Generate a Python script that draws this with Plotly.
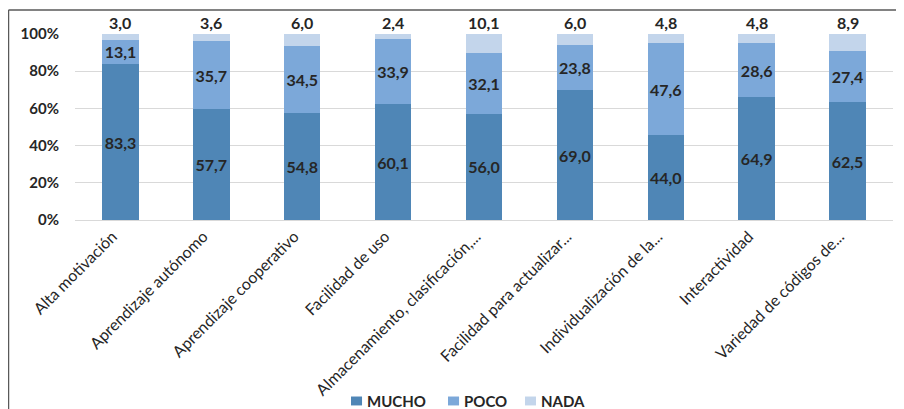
import plotly.graph_objects as go

categories = ["Alta motivación", "Aprendizaje autónomo", "Aprendizaje cooperativo",
              "Facilidad de uso", "Almacenamiento, clasificación,...",
              "Facilidad para actualizar...", "Individualización de la...",
              "Interactividad", "Variedad de códigos de..."]
mucho = [83.3, 57.7, 54.8, 60.1, 56.0, 69.0, 44.0, 64.9, 62.5]
poco = [13.1, 35.7, 34.5, 33.9, 32.1, 23.8, 47.6, 28.6, 27.4]
nada = [3.0, 3.6, 6.0, 2.4, 10.1, 6.0, 4.8, 4.8, 8.9]
series_names = ["MUCHO", "POCO", "NADA"]

FONT = "Lato"
TXT = "#262626"
COLORS = ["#4F86B6", "#7CA8D9", "#C3D5EB"]

def fmt(vals):
    return [f"{v:.1f}".replace(".", ",") for v in vals]

fig = go.Figure()
for name, vals, col, lab in zip(series_names, [mucho, poco, nada], COLORS, [True, True, False]):
    fig.add_trace(go.Bar(
        x=categories, y=vals, name=name,
        marker=dict(color=col, line=dict(width=0)),
        text=fmt(vals) if lab else None,
        textposition="inside" if lab else "none",
        insidetextanchor="middle",
        textangle=0, cliponaxis=False, constraintext="none",
        textfont=dict(family=FONT, size=16, color=TXT, weight="bold"),
        showlegend=False,
    ))

# NADA labels above the 100% stacks
for c, t in zip(categories, fmt(nada)):
    fig.add_annotation(x=c, y=100, text=t, showarrow=False, yanchor="bottom",
                       yshift=0, font=dict(family=FONT, size=16, color=TXT, weight="bold"))

# legend (squares + bold labels) at the bottom
leg_sq_x = [0.3374, 0.4560, 0.5501]
sq_w = 0.0135
leg_y = -0.973
shapes = []
for name, col, x0 in zip(series_names, COLORS, leg_sq_x):
    shapes.append(dict(type="rect", xref="paper", yref="paper", x0=x0, x1=x0 + sq_w,
                       y0=leg_y - 0.024, y1=leg_y + 0.024, fillcolor=col,
                       line=dict(width=0)))
    fig.add_annotation(xref="paper", yref="paper", x=x0 + sq_w + 0.004, y=leg_y,
                       xanchor="left", yanchor="middle", text=name, showarrow=False,
                       font=dict(family=FONT, size=15, color=TXT, weight="bold"))

shapes += [
    dict(type="line", xref="paper", yref="paper", x0=-0.0813, x1=1.02,
         y0=1.129, y1=1.129, line=dict(color="#595959", width=1.5)),
    dict(type="line", xref="paper", yref="paper", x0=-0.0813, x1=-0.0813,
         y0=1.129, y1=-1.02, line=dict(color="#595959", width=1.5)),
]

fig.update_layout(
    barmode="stack", barnorm="percent", bargap=0.6,
    width=896, height=401,
    margin=dict(l=67, r=11, t=26, b=189, autoexpand=False),
    paper_bgcolor="white", plot_bgcolor="white",
    font=dict(family=FONT, color=TXT),
    uniformtext=dict(minsize=15, mode="show"),
    showlegend=False,
    xaxis=dict(tickangle=-45, tickfont=dict(family=FONT, size=16, color=TXT),
               showline=True, linecolor="#D9D9D9", linewidth=1, ticks="",
               ticklabelshift=-8, automargin=False),
    yaxis=dict(range=[0, 100], dtick=20, ticksuffix="%",
               tickfont=dict(family=FONT, size=15, color=TXT, weight="bold"),
               showgrid=True, gridcolor="#D9D9D9", gridwidth=1, zeroline=False,
               ticklabelstandoff=15, automargin=False),
    shapes=shapes,
)

fig.write_html("out.html")
